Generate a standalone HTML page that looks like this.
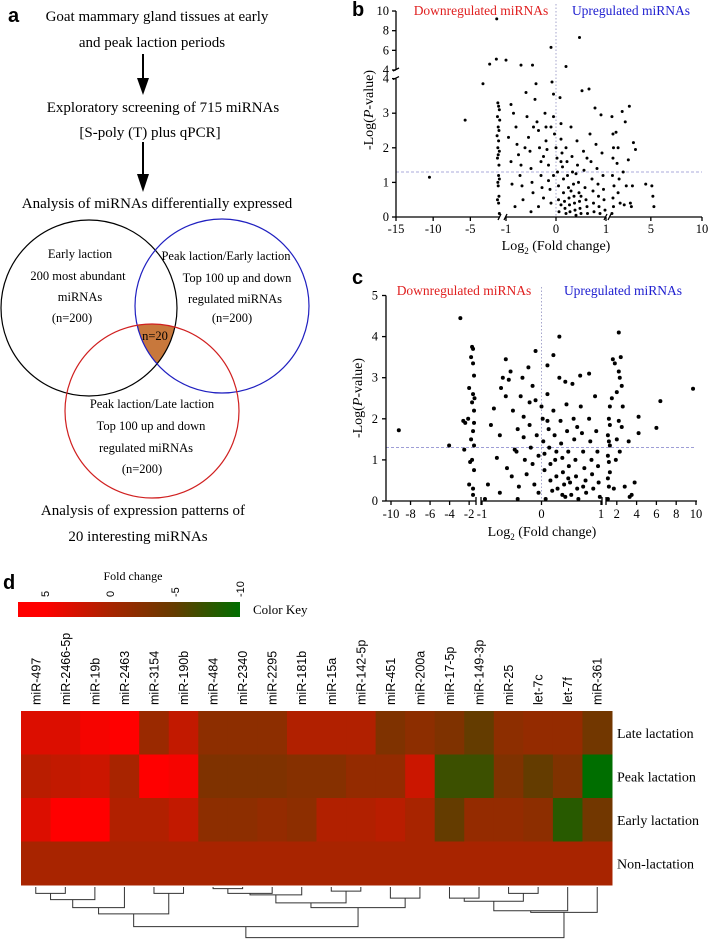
<!DOCTYPE html>
<html><head><meta charset="utf-8"><style>
body{margin:0;background:#fff;}
svg{display:block;font-family:"Liberation Serif",serif;}
.sans{font-family:"Liberation Sans",sans-serif;}
</style></head><body>
<svg id="fig" width="709" height="941" viewBox="0 0 709 941" xmlns="http://www.w3.org/2000/svg">
<defs>
<clipPath id="cBlack"><circle cx="89" cy="308" r="88"/></clipPath>
<clipPath id="cBlue"><circle cx="222" cy="306" r="87"/></clipPath>
</defs>
<!-- Panel a -->
<g font-size="15" text-anchor="middle">
<text x="8" y="22" font-size="20" font-weight="bold" class="sans" text-anchor="start">a</text>
<text x="157" y="21">Goat mammary gland tissues at early</text>
<text x="152" y="47">and peak laction periods</text>
<g><line x1="143" y1="54" x2="143" y2="80" stroke="#000" stroke-width="2"/><polygon points="137,78 149,78 143,95" fill="#000"/></g>
<text x="163" y="112">Exploratory screening of 715 miRNAs</text>
<text x="150" y="137">[S-poly (T) plus qPCR]</text>
<g><line x1="143" y1="142" x2="143" y2="176" stroke="#000" stroke-width="2"/><polygon points="137,174 149,174 143,192" fill="#000"/></g>
<text x="157" y="208">Analysis of miRNAs differentially expressed</text>
<g clip-path="url(#cBlack)"><g clip-path="url(#cBlue)"><circle cx="152" cy="411" r="87" fill="#c8783c"/></g></g>
<circle cx="89" cy="308" r="88" fill="none" stroke="#000" stroke-width="1.2"/>
<circle cx="222" cy="306" r="87" fill="none" stroke="#2020c0" stroke-width="1.2"/>
<circle cx="152" cy="411" r="87" fill="none" stroke="#d02020" stroke-width="1.2"/>
<g font-size="12.5">
<text x="80" y="258">Early laction</text>
<text x="78" y="280">200 most abundant</text>
<text x="80" y="301">miRNAs</text>
<text x="72" y="322">(n=200)</text>
<text x="226" y="260">Peak laction/Early laction</text>
<text x="237" y="282">Top 100 up and down</text>
<text x="235" y="303">regulated miRNAs</text>
<text x="232" y="322">(n=200)</text>
<text x="155" y="340">n=20</text>
<text x="152" y="408">Peak laction/Late laction</text>
<text x="151" y="430">Top 100 up and down</text>
<text x="146" y="452">regulated miRNAs</text>
<text x="142" y="473">(n=200)</text>
</g>
<text x="143" y="515">Analysis of expression  patterns of</text>
<text x="138" y="541">20 interesting miRNAs</text>
</g>
<g id="pb"></g>
<g id="pc"></g>
<g id="pd"></g>
</svg>
<script>
// ---------- Panel b data ----------
const bX = [-10.5,-5.7,-3.3,-2.4,-1.45,-1.5,-1,-0.7,-0.47,-0.1,0.47,0.2,
-1.3,-1.2,-1.1,-1.35,-1.25,-1.15,-1.2,-1.3,-1.1,-1.25,-1.35,-1.15,-1.2,-1.1,-1.3,-1.25,-1.15,-1.35,-1.2,-1.1,-1.05,-1.4,
-0.9,-0.85,-0.8,-0.78,-0.75,-0.7,-0.72,-0.68,-0.66,-0.82,-0.6,-0.58,-0.55,-0.52,-0.5,-0.48,-0.46,-0.5,-0.4,-0.42,-0.38,-0.35,-0.33,-0.3,-0.3,-0.28,-0.25,-0.22,-0.2,-0.2,-0.18,-0.15,-0.15,-0.12,-0.1,-0.08,-0.05,-0.05,-0.03,0,0.02,0.03,0.05,0.05,0.06,0.08,0.1,0.1,0.12,0.13,0.15,0.15,0.17,0.18,0.2,0.2,0.22,0.23,0.25,0.26,0.27,0.28,0.3,0.32,0.33,0.35,0.36,0.37,0.38,0.4,0.42,0.43,0.45,0.46,0.47,0.48,0.5,0.52,0.55,0.56,0.58,0.6,0.62,0.63,0.66,0.68,0.7,0.72,0.74,0.75,0.76,0.78,0.8,0.82,0.84,0.85,0.86,0.88,0.9,0.92,0.94,0.95,0.96,0.98,-0.95,-0.9,-0.88,-0.62,-0.45,-0.25,-0.05,0.1,0.3,0.5,0.1,-0.1,0.62,0.4,-0.35,
1.2,1.3,1.35,1.3,1.25,1.4,1.3,1.35,1.2,1.6,1.8,1.7,1.9,1.8,2.0,2.2,2.5,2.3,2.6,2.4,2.9,2.8,3.0,3.3,3.5,3.2,4.5,5.1,5.2,5.3,3.1];
const bY = [1.15,2.8,3.85,4.6,9.2,5.1,5.0,4.5,4.5,6.3,7.3,4.35,
3.3,3.2,3.1,2.9,2.6,2.5,2.2,2.0,1.9,1.8,1.7,1.5,1.2,1.1,1.0,0.9,0.6,0.5,0.4,0.1,2.8,2.35,
3.25,3.0,2.6,2.1,1.8,1.5,1.2,0.9,0.5,0.3,3.6,2.9,2.3,1.9,1.4,1.0,0.7,0.15,3.85,3.4,2.75,2.5,2.0,1.6,1.2,0.85,0.55,3.0,2.6,2.2,1.95,1.5,1.05,0.8,0.4,3.9,3.55,2.9,2.4,2.0,1.7,1.3,0.9,0.5,0.15,3.45,2.7,2.25,1.85,1.45,1.1,0.7,0.45,0.25,0.1,2.0,1.6,1.2,0.85,0.55,0.35,0.15,2.6,1.75,1.3,0.95,0.6,0.4,0.2,0.05,2.2,1.5,1.0,0.7,0.45,0.25,0.1,3.65,1.9,1.35,0.85,0.5,0.3,0.1,3.7,2.4,1.6,1.1,0.75,0.4,0.15,3.15,2.1,1.4,0.95,0.6,0.3,0.1,2.95,1.85,1.2,0.8,0.5,0.2,2.3,1.6,0.95,2.0,2.6,1.75,1.2,0.35,0.75,0.6,1.6,2.6,1.7,1.25,0.3,
2.9,2.4,2.0,1.7,1.2,0.9,0.55,0.3,0.1,2.45,2.0,1.55,1.1,0.7,0.4,3.05,2.75,1.3,0.9,0.35,3.2,1.65,0.4,2.15,1.95,0.9,0.95,0.9,0.6,0.3,0.3];
const bXTicks = [-15,-10,-5,-1,0,1,5,10];
const bYTicksLow = [0,1,2,3,4];
const bYTicksHigh = [4,6,8,10];
const bThreshold = 1.3;

// ---------- Panel c data ----------
const cX = [-9.2,-4.05,6,4.2,4.2,9.7,6.4,
-2.9,-1.7,-1.6,-1.8,-1.6,-1.5,-2.0,-1.6,-1.7,-1.5,-2.6,-2.4,-1.6,-1.8,-1.5,-2.5,-1.7,-1.5,-2.0,-1.6,-1.6,-1.9,-2.1,-1.5,-1.45,
-0.95,-0.9,-0.85,-0.8,-0.75,-0.7,-0.68,-0.65,-0.6,-0.6,-0.58,-0.55,-0.52,-0.5,-0.48,-0.45,-0.42,-0.4,-0.38,-0.35,-0.32,-0.3,-0.3,-0.28,-0.25,-0.22,-0.2,-0.2,-0.18,-0.15,-0.12,-0.1,-0.1,-0.08,-0.05,-0.05,0,0.02,0.03,0.05,0.05,0.07,0.1,0.1,0.12,0.13,0.15,0.15,0.18,0.2,0.2,0.22,0.23,0.25,0.27,0.3,0.3,0.32,0.33,0.35,0.36,0.38,0.4,0.42,0.43,0.45,0.46,0.48,0.5,0.52,0.54,0.55,0.57,0.58,0.6,0.62,0.65,0.66,0.68,0.7,0.72,0.74,0.75,0.8,0.8,0.82,0.84,0.85,0.87,0.9,0.92,0.94,0.95,0.96,0.98,-0.7,-0.4,0.1,0.4,0.6,-0.15,0.25,0.45,0.7,0.35,
1.2,1.3,1.1,1.2,1.3,1.1,1.2,1.3,1.1,1.2,1.1,1.3,1.5,1.8,1.6,2.2,2.3,2.2,2.4,2.5,2.6,2.2,2.0,1.9,1.7,2.5,2.3,3.2,3.3,3.5,2.8,3.8,2.0];
const cY = [1.72,1.35,1.78,2.05,1.65,2.73,2.43,
4.45,3.75,3.7,3.5,3.35,3.05,2.75,2.6,2.4,2.2,1.95,1.9,1.7,1.5,1.35,1.25,1.0,0.75,0.4,0.3,0.15,0.95,2.0,1.9,2.5,
0.05,0.4,1.85,2.25,1.05,0.2,2.75,3.0,3.45,2.55,0.8,2.95,3.15,0.6,2.2,1.25,1.2,1.75,0.35,2.55,3.0,2.05,1.55,1.0,0.65,3.25,2.4,1.85,1.3,0.9,0.4,3.65,2.45,1.6,1.1,0.2,2.3,2.0,1.45,1.15,0.75,0.05,3.3,2.6,1.75,1.3,0.9,0.5,0.25,3.55,2.2,1.6,1.0,0.6,0.3,4.0,3.0,1.95,1.4,1.05,0.7,0.4,0.1,2.35,1.7,1.2,0.85,0.45,0.15,2.85,2.0,1.5,1.0,0.6,0.3,0.05,3.05,2.3,1.65,1.2,0.8,0.5,0.2,3.1,2.0,1.45,1.0,0.65,0.3,2.55,1.7,1.2,0.85,0.45,0.1,1.6,0.05,1.95,2.9,1.8,2.8,1.2,0.55,0.35,0.15,
2.0,1.85,1.6,1.45,1.35,1.1,0.95,0.7,0.55,0.35,0.05,2.3,2.5,3.35,3.45,3.15,3.0,4.1,3.5,2.8,2.3,1.95,1.5,1.0,0.3,1.8,1.2,1.45,0.1,0.15,0.35,0.45,2.65];
const cXTicks = [-10,-8,-6,-4,-2,-1,0,1,2,4,6,8,10];
const cYTicks = [0,1,2,3,4,5];
const cThreshold = 1.3;

// ---------- Panel d data ----------
const mirnas = ["miR-497","miR-2466-5p","miR-19b","miR-2463","miR-3154","miR-190b","miR-484","miR-2340","miR-2295","miR-181b","miR-15a","miR-142-5p","miR-451","miR-200a","miR-17-5p","miR-149-3p","miR-25","let-7c","let-7f","miR-361"];
const stages = ["Late lactation","Peak lactation","Early lactation","Non-lactation"];
const lateVals  = [3,3,4.5,5,-1,1.5,-2,-2,-2,0.5,0.5,0.5,-3,-2,-3,-5,-2,-1.5,-1.5,-4];
const peakVals  = [1,1.5,2,0,5,4.5,-3,-3,-3,-2.5,-2.5,-1.5,-1.5,2,-7,-7,-3,-5,-3,-10];
const earlyVals = [3,5,5,0.5,0.5,1.5,-2,-2,-1.5,-2,0.5,0.5,1,0,-5,-1.5,-1.5,-2,-8,-4];
const nonVals   = [0,0,0,0,0,0,0,0,0,0,0,0,0,0,0,0,0,0,0,0];
const keyTicks = [5,0,-5,-10];
// dendrogram merges: [left node, right node, height]; leaves 0..19, merges numbered 20+
const mergeLeft  = [0,20,21,4,22,6,25,26,10,27,12,29,24,14,16,33,35,36,32];
const mergeRight = [1,2,3,5,23,7,8,9,11,28,13,30,31,15,17,34,18,19,37];
const mergeHeight= [6.7,13.3,21.7,6.7,28.3,1.7,6.7,8.3,4.3,16.7,11.7,21.7,41.7,11.7,6.7,15,25,26.7,53.3];

const NS="http://www.w3.org/2000/svg";
function mk(tag, attrs, parent, txt){
  const e=document.createElementNS(NS,tag);
  for(const k in attrs) e.setAttribute(k,attrs[k]);
  if(txt!==undefined) e.textContent=txt;
  parent.appendChild(e); return e;
}
function pw(segs){ return v=>{ for(const s of segs){ if(v>=s[0]&&v<=s[1]) return s[2]+(v-s[0])/(s[1]-s[0])*(s[3]-s[2]); }
  if(v<segs[0][0]) return segs[0][2]; const l=segs[segs.length-1]; if(v>l[1]) return l[3];
  for(let i=0;i<segs.length-1;i++){ if(v>segs[i][1]&&v<segs[i+1][0]) return (v-segs[i][1])<(segs[i+1][0]-v)?segs[i][3]:segs[i+1][2]; } return 0; }; }

// ---------- Panel b ----------
(function(){
  const g=document.getElementById('pb');
  const xs=pw([[-15,-1.01,396,500],[-1,1,506,606],[1.01,10,610,702]]);
  const yLow=v=>217-v*34.6;
  const yHigh=v=>70-(v-4)*9.83;
  const ys=v=>v<=4?yLow(v):yHigh(Math.max(v,4));
  let t=mk('text',{x:352,y:16,'font-size':20,'font-weight':'bold','class':'sans'},g,'b');
   
  t=mk('text',{x:481,y:15,'font-size':13.5,fill:'#e02020','text-anchor':'middle'},g,'Downregulated miRNAs');
   
  t=mk('text',{x:631,y:15,'font-size':13.5,fill:'#2020d0','text-anchor':'middle'},g,'Upregulated miRNAs');
   
  let l=mk('line',{x1:xs(0),y1:4,x2:xs(0),y2:217,stroke:'#9090c0','stroke-width':0.8,'stroke-dasharray':'1.5,2'},g);
   
  l=mk('line',{x1:396,y1:ys(bThreshold),x2:702,y2:ys(bThreshold),stroke:'#9090d0','stroke-width':0.8,'stroke-dasharray':'3,2'},g);
   
  const ax=mk('g',{stroke:'#000','stroke-width':1.3,fill:'none'},g);
   
  mk('line',{x1:396,y1:yLow(0),x2:396,y2:yLow(4)},ax);
  mk('line',{x1:396,y1:yHigh(4),x2:396,y2:yHigh(10)},ax);
  mk('line',{x1:393,y1:yLow(4)+1,x2:399,y2:yLow(4)-2},ax);
  mk('line',{x1:393,y1:yHigh(4)+1,x2:399,y2:yHigh(4)-2},ax);
  [[396,500],[506,606],[610,702]].forEach(s=>mk('line',{x1:s[0],y1:217,x2:s[1],y2:217},ax));
  [500,506,606,610].forEach(x=>mk('line',{x1:x-2,y1:220,x2:x+1,y2:214},ax));
  bYTicksLow.forEach(v=>{mk('line',{x1:392,y1:yLow(v),x2:396,y2:yLow(v)},ax);
    const tt=mk('text',{x:389,y:yLow(v)+4,'font-size':12.5,'text-anchor':'end'},g,String(v));
     });
  bYTicksHigh.forEach(v=>{mk('line',{x1:392,y1:yHigh(v),x2:396,y2:yHigh(v)},ax);
    const tt=mk('text',{x:389,y:yHigh(v)+4,'font-size':12.5,'text-anchor':'end'},g,String(v));
     });
  bXTicks.forEach(v=>{const x=(v===-1)?506:xs(v); mk('line',{x1:x,y1:217,x2:x,y2:221},ax);
    const tt=mk('text',{x:x,y:233,'font-size':12.5,'text-anchor':'middle'},g,String(v));
     });
  t=mk('text',{x:556,y:250,'font-size':14,'text-anchor':'middle'},g);
   
  t.innerHTML='Log<tspan font-size="9" dy="4">2</tspan><tspan dy="-4"> (Fold change)</tspan>';
  t=mk('text',{transform:'translate(373,110) rotate(-90)','font-size':14,'text-anchor':'middle'},g);
   
  t.innerHTML='-Log(<tspan font-style="italic">P</tspan>-value)';
  const pts=mk('g',{fill:'#000'},g);
   
  for(let i=0;i<bX.length;i++){
    const c=mk('circle',{cx:xs(bX[i]),cy:ys(bY[i]),r:1.5},pts);
     
  }
})();

// ---------- Panel c ----------
(function(){
  const g=document.getElementById('pc');
  const xs=pw([[-10,-1.4,391,475],[-1,1,482,601],[1.01,10,607,696]]);
  const ys=v=>501-v*41.1;
  let t=mk('text',{x:352,y:284,'font-size':20,'font-weight':'bold','class':'sans'},g,'c');
   
  t=mk('text',{x:464,y:295,'font-size':13.5,fill:'#e02020','text-anchor':'middle'},g,'Downregulated miRNAs');
   
  t=mk('text',{x:623,y:295,'font-size':13.5,fill:'#2020d0','text-anchor':'middle'},g,'Upregulated miRNAs');
   
  let l=mk('line',{x1:xs(0),y1:287,x2:xs(0),y2:501,stroke:'#9090c0','stroke-width':0.8,'stroke-dasharray':'1.5,2'},g);
   
  l=mk('line',{x1:386,y1:ys(cThreshold),x2:696,y2:ys(cThreshold),stroke:'#9090d0','stroke-width':0.8,'stroke-dasharray':'3,2'},g);
   
  const ax=mk('g',{stroke:'#000','stroke-width':1.3,fill:'none'},g);
   
  mk('line',{x1:386,y1:ys(0),x2:386,y2:ys(5)},ax);
  [[386,476],[481,602],[606,697]].forEach(s=>mk('line',{x1:s[0],y1:501,x2:s[1],y2:501},ax));
  [476,481,602,606].forEach(x=>mk('line',{x1:x,y1:497,x2:x,y2:505},ax));
  cYTicks.forEach(v=>{mk('line',{x1:382,y1:ys(v),x2:386,y2:ys(v)},ax);
    const tt=mk('text',{x:378,y:ys(v)+4,'font-size':12.5,'text-anchor':'end'},g,String(v));
     });
  cXTicks.forEach(v=>{const x=(v===-1)?482:xs(v); mk('line',{x1:x,y1:501,x2:x,y2:505},ax);
    const tt=mk('text',{x:x,y:518,'font-size':12.5,'text-anchor':'middle'},g,String(v));
     });
  t=mk('text',{x:542,y:536,'font-size':14,'text-anchor':'middle'},g);
   
  t.innerHTML='Log<tspan font-size="9" dy="4">2</tspan><tspan dy="-4"> (Fold change)</tspan>';
  t=mk('text',{transform:'translate(362,398) rotate(-90)','font-size':14,'text-anchor':'middle'},g);
   
  t.innerHTML='-Log(<tspan font-style="italic">P</tspan>-value)';
  const pts=mk('g',{fill:'#000'},g);
   
  for(let i=0;i<cX.length;i++){
    const c=mk('circle',{cx:xs(cX[i]),cy:ys(cY[i]),r:2},pts);
     
  }
})();

// ---------- Panel d ----------
(function(){
  const g=document.getElementById('pd');
  const stops=[[5,[255,0,0]],[0,[168,36,0]],[-5,[100,60,0]],[-10,[0,110,0]]];
  function col(v){
    v=Math.max(-10,Math.min(5,v));
    for(let i=0;i<stops.length-1;i++){const a=stops[i],b=stops[i+1];
      if(v<=a[0]&&v>=b[0]){const f=(a[0]-v)/(a[0]-b[0]);
        const c=a[1].map((x,j)=>Math.round(x+(b[1][j]-x)*f)); return 'rgb('+c.join(',')+')';}}
    return '#000';
  }
  let t=mk('text',{x:3,y:589,'font-size':20,'font-weight':'bold','class':'sans'},g,'d');
   
  t=mk('text',{x:133,y:580,'font-size':12,'text-anchor':'middle'},g,'Fold change');
   
  const kx=v=>45+(5-v)*13.0;
  const gr=mk('linearGradient',{id:'kg',x1:0,x2:1,y1:0,y2:0},document.querySelector('defs'));
  stops.forEach(s=>mk('stop',{offset:(kx(s[0])-18)/222,'stop-color':col(s[0])},gr));
  let r=mk('rect',{x:18,y:602,width:222,height:15,fill:'url(#kg)'},g);
   
  keyTicks.forEach(v=>{const tt=mk('text',{transform:'translate('+(kx(v)+4)+',597) rotate(-90)','font-size':11,'class':'sans'},g,String(v));
     });
  t=mk('text',{x:253,y:614,'font-size':13},g,'Color Key');
   
  const x0=21,cw=(612-21)/mirnas.length,y0=711,rh=43.5;
  const rows=[lateVals,peakVals,earlyVals,nonVals];
  rows.forEach((vals,ri)=>{
    vals.forEach((v,ci)=>{const c=mk('rect',{x:x0+ci*cw,y:y0+ri*rh,width:cw+0.5,height:rh+0.5,fill:col(v)},g);
       });
    const tt=mk('text',{x:617,y:y0+ri*rh+rh/2+5,'font-size':14},g,stages[ri]);
     
  });
  mirnas.forEach((m,ci)=>{const cx=x0+(ci+0.5)*cw;
    const tt=mk('text',{transform:'translate('+(cx+4.5)+',705) rotate(-90)','font-size':12.5,'class':'sans'},g,m);
     });
  // dendrogram
  const dg=mk('g',{stroke:'#333','stroke-width':1,fill:'none'},g);
   
  const base=887, hs=0.95;
  const pos={}, hgt={};
  mirnas.forEach((m,i)=>{pos[i]=x0+(i+0.5)*cw; hgt[i]=0;});
  for(let k=0;k<mergeLeft.length;k++){
    const a=mergeLeft[k],b=mergeRight[k],h=mergeHeight[k],id=20+k;
    const yh=base+h*hs;
    const p=mk('path',{d:'M'+pos[a]+','+(base+hgt[a]*hs)+' V'+yh+' H'+pos[b]+' V'+(base+hgt[b]*hs)},dg);
     
    pos[id]=(pos[a]+pos[b])/2; hgt[id]=h;
  }
})();
</script>
</body></html>
